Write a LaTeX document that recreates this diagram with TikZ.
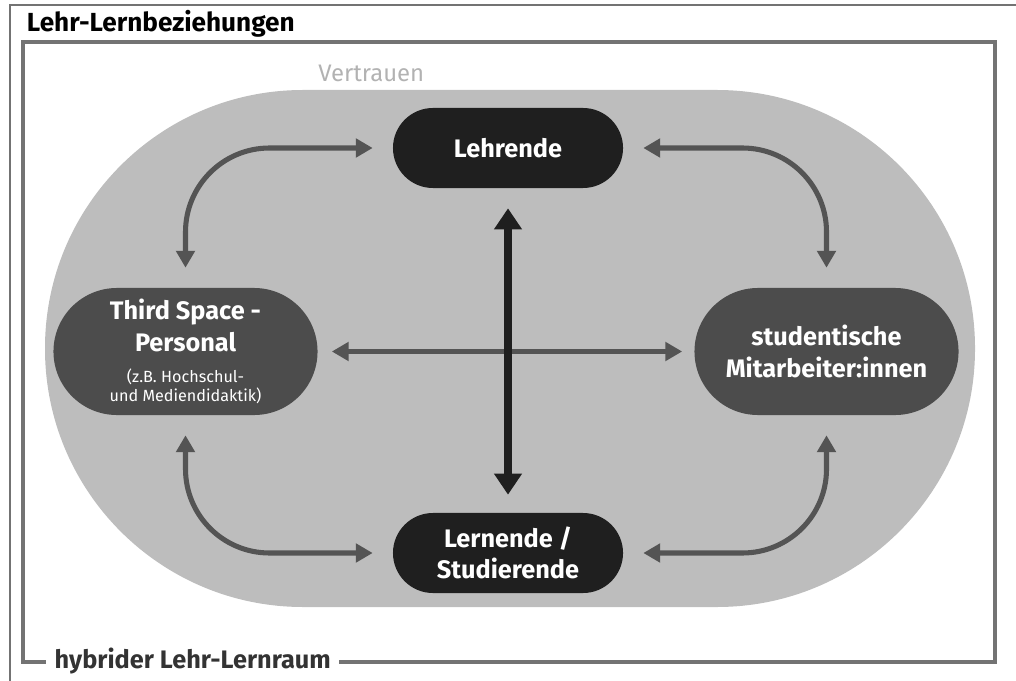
\documentclass[tikz,border=0pt]{standalone}
\usepackage{fontspec}
\setmainfont{Fira Sans}
\usetikzlibrary{arrows.meta,shapes.misc,calc}
\definecolor{rahmen}{gray}{0.45}
\definecolor{raum}{gray}{0.74}
\definecolor{dunkel}{gray}{0.12}
\definecolor{mittel}{gray}{0.30}
\definecolor{pfeilgrau}{gray}{0.33}
\newcommand{\klein}[1]{{\mdseries\fontsize{11.5}{13.5}\selectfont #1}}

\begin{document}
\begin{tikzpicture}[x=0.025cm,y=-0.025cm,
  rolle/.style={rounded rectangle,text=white,align=center,inner sep=0pt,
    font=\bfseries\fontsize{18}{22.5}\selectfont},
  pfeil/.style={draw=pfeilgrau,line width=3.6pt,
    {Triangle[length=12pt,width=13pt]}-{Triangle[length=12pt,width=13pt]}}]
  \useasboundingbox (0,0) rectangle (1016,681);
  %duenner Rand oben und links
  \draw[rahmen,line width=0.9pt] (10,681) -- (10,5) -- (1016,5);
  \node[anchor=base west,font=\bfseries\fontsize{18.6}{20}\selectfont] (titel) at (22,32) {Lehr-Lernbeziehungen};
  %Raum mit Text unten
  \node[anchor=base west,text=black!80,inner sep=6pt,font=\bfseries\fontsize{18}{20}\selectfont] (raumtext) at (46,668) {hybrider Lehr-Lernraum};
  \draw[rahmen,line width=2.2pt] (raumtext.east |- 0,662) -- (995,662) -- (995,42) -- (23,42) -- (23,662) -- (raumtext.west |- 0,662);
  %Vertrauen
  \fill[raum,rounded corners=6.45cm] (45,90) rectangle (975,607);
  \node[anchor=base west,text=gray!60,inner sep=0pt,font=\fontsize{17}{20}\selectfont] (vertrauen) at (318,82) {Vertrauen};
  %Rollen
  \node[rolle,fill=dunkel,minimum width=5.75cm,minimum height=2cm] (lehr) at (508,148) {Lehrende};
  \node[rolle,fill=dunkel,minimum width=5.75cm,minimum height=2cm] (lern) at (508,553) {Lernende /\\Studierende};
  \node[rolle,fill=mittel,minimum width=6.6cm,minimum height=3.175cm] (third) at (185.5,351.5)
    {Third Space -\\Personal\\\klein{(z.B. Hochschul-}\\[-9pt]\klein{und Mediendidaktik)}};
  \node[rolle,fill=mittel,minimum width=6.6cm,minimum height=3.175cm] (stud) at (826.5,351.5)
    {studentische\\Mitarbeiter:innen};
  %Pfeile
  \draw[pfeil,line width=3pt,shorten <=0.35cm,shorten >=0.3cm] (third.east) -- (stud.west);
  \draw[pfeil,draw=dunkel,line width=5pt,{Triangle[length=15pt,width=19pt]}-{Triangle[length=15pt,width=19pt]},
    shorten <=0.5cm,shorten >=0.45cm] (lehr.south) -- (lern.north);
  \draw[pfeil,rounded corners=2.1cm,shorten <=0.5cm,shorten >=0.5cm] (lehr.west) -| (third.north);
  \draw[pfeil,rounded corners=2.1cm,shorten <=0.5cm,shorten >=0.5cm] (lehr.east) -| (stud.north);
  \draw[pfeil,rounded corners=2.1cm,shorten <=0.5cm,shorten >=0.5cm] (third.south) |- (lern.west);
  \draw[pfeil,rounded corners=2.1cm,shorten <=0.5cm,shorten >=0.5cm] (stud.south) |- (lern.east);
\end{tikzpicture}
\end{document}
